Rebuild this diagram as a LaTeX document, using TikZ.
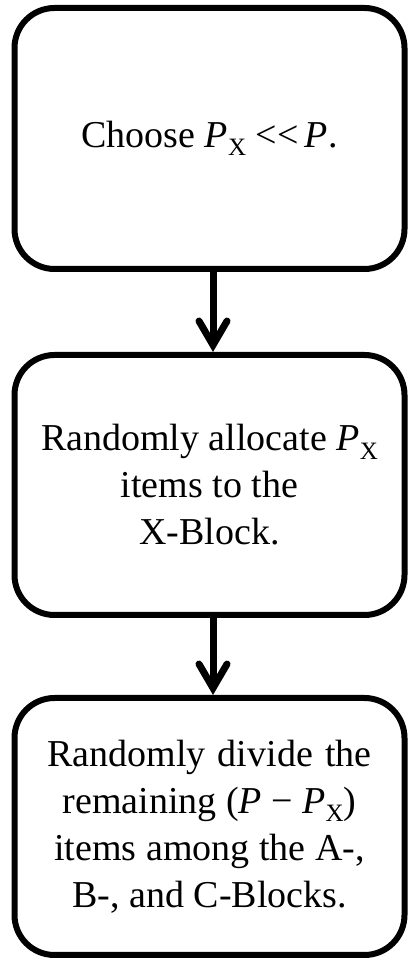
\documentclass[tikz,border=0pt]{standalone}
\usepackage{fontspec}
\setmainfont{Liberation Serif}
\usetikzlibrary{arrows.meta}
\newcommand\PX{\textit{P}\raisebox{-0.22em}{\fontsize{25}{25}\selectfont X}}
\begin{document}
\begin{tikzpicture}[x=1pt,y=1pt,
  box/.style={draw=black, line width=6pt, rounded corners=40pt, minimum width=390pt,
    align=center, font=\fontsize{38}{47}\selectfont, inner sep=0pt},
  flow/.style={line width=7pt,
    -{Straight Barb[length=24pt,width=28pt,line width=7pt,line cap=round,line join=miter]}}]
\fill[white] (0,0) rectangle (408,961);
\useasboundingbox (0,0) rectangle (408,961);
\node[box, minimum height=261pt] (b1) at (209.5,822.5) {Choose \PX\ <\kern0pt<\,\textit{P}.};
\node[box, minimum height=260pt] (b2) at (209.5,476) {Randomly allocate \PX\\items to the\\X-Block.};
\node[box, minimum height=257pt] (b3) at (209.5,134.5) {\makebox[324pt][s]{Randomly divide the}\\remaining (\textit{P} − \PX)\\items among the A-,\\B-, and C-Blocks.};
\draw[flow] ([xshift=3.5pt]b1.south) -- ([xshift=3.5pt]b2.north);
\draw[flow] ([xshift=3.5pt]b2.south) -- ([xshift=3.5pt]b3.north);
\end{tikzpicture}
\end{document}
